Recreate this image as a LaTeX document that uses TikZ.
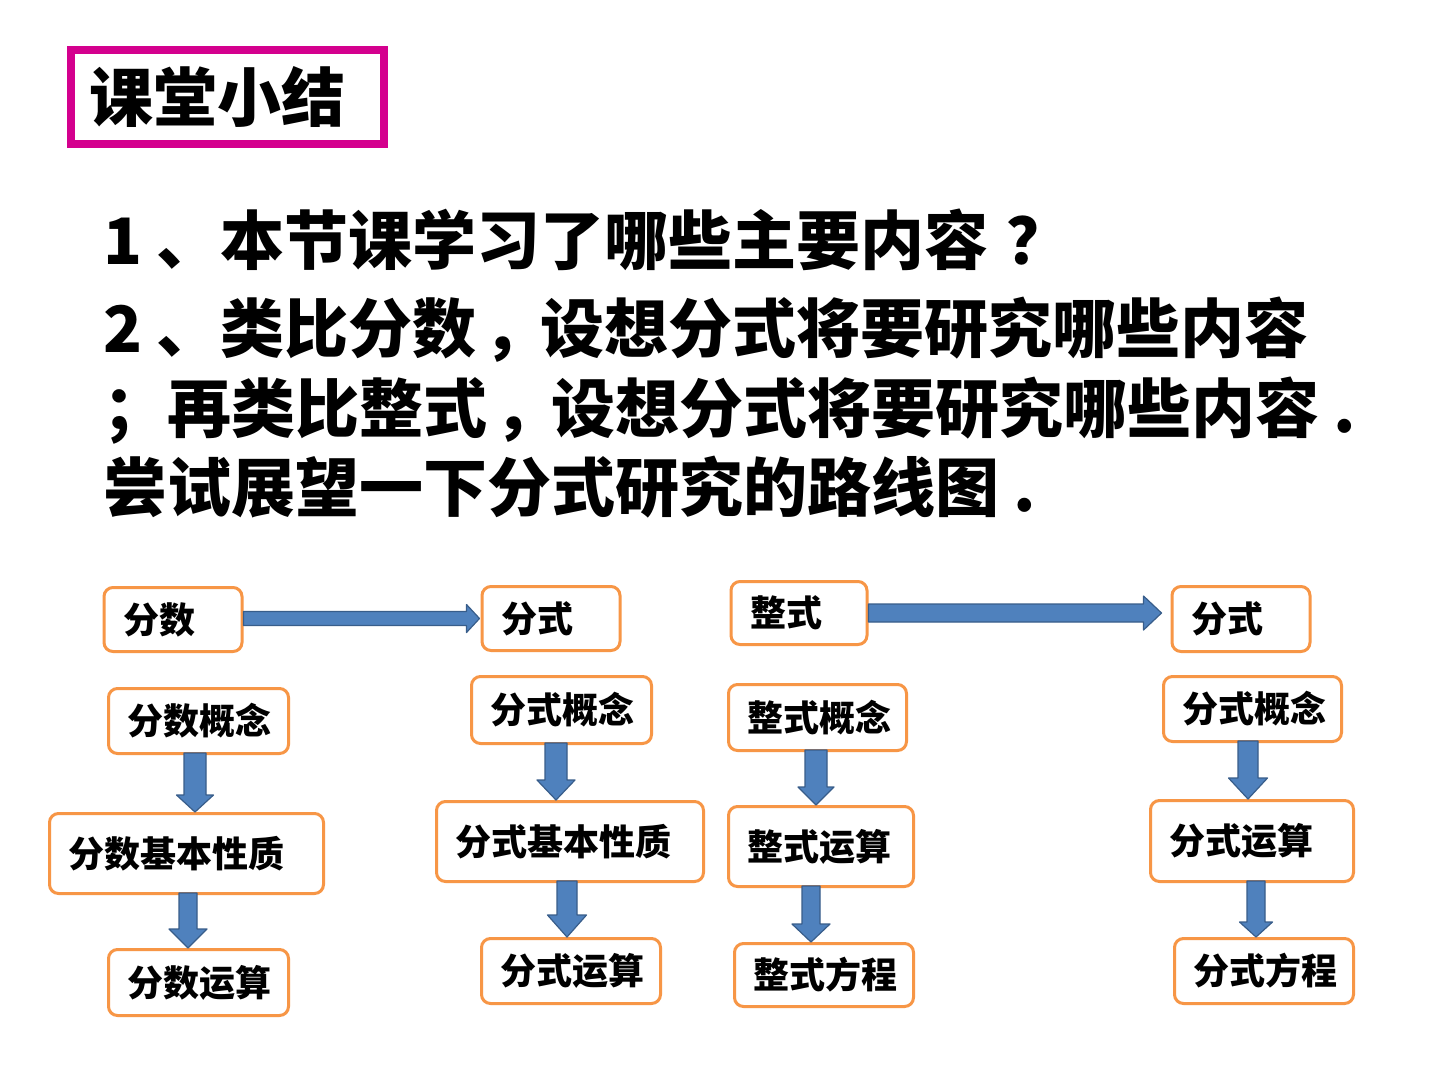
\documentclass[tikz,border=0pt]{standalone}
\usepackage{fontspec}
\setmainfont{Noto Sans CJK SC}
\usetikzlibrary{calc}
\definecolor{boxorange}{RGB}{247,150,70}
\definecolor{arrowblue}{RGB}{79,129,189}
\definecolor{arrowedge}{RGB}{56,93,138}
\definecolor{titlemag}{RGB}{212,0,142}
\tikzset{
  stepbox/.style={draw=boxorange, line width=3pt, rounded corners=9pt, fill=white,
    inner xsep=19pt, inner ysep=0pt, align=left, font=\fontsize{36}{36}\selectfont\bfseries},
  blkarrow/.style={fill=arrowblue, draw=arrowedge, line width=1.2pt, line join=round},
  titlebox/.style={draw=titlemag, line width=8pt, inner xsep=18pt, inner ysep=0pt, align=left,
    font=\fontsize{64}{64}\selectfont\bfseries},
  qline/.style={anchor=base west, inner sep=0pt, font=\fontsize{64}{64}\selectfont\bfseries}
}
% vertical block arrow: from, to, x centre, shaft half width, head half width, head length
\newcommand\blkdown[6]{%
  \filldraw[blkarrow] let \p1=(#1.south), \p2=(#2.north), \p3=(#3,0) in
    (\x3-#4pt,\y1+2pt) -- (\x3+#4pt,\y1+2pt) -- (\x3+#4pt,\y2+#6pt) -- (\x3+#5pt,\y2+#6pt)
    -- (\x3,\y2) -- (\x3-#5pt,\y2+#6pt) -- (\x3-#4pt,\y2+#6pt) -- cycle;}
% horizontal block arrow: from, to, y centre, shaft half, head half, head length, gap
\newcommand\blkright[7]{%
  \filldraw[blkarrow] let \p1=(#1.east), \p2=(#2.west), \p3=(0,#3) in
    (\x1,\y3-#4pt) -- (\x2-#7pt-#6pt,\y3-#4pt) -- (\x2-#7pt-#6pt,\y3-#5pt) -- (\x2-#7pt,\y3)
    -- (\x2-#7pt-#6pt,\y3+#5pt) -- (\x2-#7pt-#6pt,\y3+#4pt) -- (\x1,\y3+#4pt) -- cycle;}
\begin{document}
\begin{tikzpicture}[x=1pt,y=-1pt]
\fill[white] (0,0) rectangle (1440,1080);
\useasboundingbox (0,0) rectangle (1440,1080);

% title
\node[titlebox, text width=277pt, minimum height=94pt] (title) at (227.5,97) {课堂小结};

% questions
\node[qline] (q1) at (103,264) {1 、本节课学习了哪些主要内容\hspace{18pt}？};
\node[qline] (q2) at (103,352) {2 、类比分数\hspace{7pt}，\hspace{-7pt}设想分式将要研究哪些内容};
\node[qline] (q3) at (103,432) {；再类比整式\hspace{7pt}，\hspace{-7pt}设想分式将要研究哪些内容 .};
\node[qline] (q4) at (103,511) {尝试展望一下分式研究的路线图 .};

% top row
\node[stepbox, text width=100pt, minimum height=64pt] (n1) at (173,619.5) {分数};
\node[stepbox, text width=100pt, minimum height=64pt] (n2) at (551,618.5) {分式};
\node[stepbox, text width=98pt, minimum height=63pt] (n3) at (799,613) {整式};
\node[stepbox, text width=100pt, minimum height=65pt] (n4) at (1241,619) {分式};

% column 1
\node[stepbox, text width=142pt, minimum height=65pt] (a1) at (198.5,721) {分数概念};
\node[stepbox, text width=236pt, minimum height=80pt] (a2) at (186.5,853.5) {分数基本性质};
\node[stepbox, text width=142pt, minimum height=66pt] (a3) at (198.5,982.5) {分数运算};

% column 2
\node[stepbox, text width=142pt, minimum height=67pt] (b1) at (561.5,710) {分式概念};
\node[stepbox, text width=229pt, minimum height=80pt] (b2) at (570,841.5) {分式基本性质};
\node[stepbox, text width=141pt, minimum height=65pt] (b3) at (571,971) {分式运算};

% column 3
\node[stepbox, text width=140pt, minimum height=66pt] (c1) at (817.5,717.5) {整式概念};
\node[stepbox, text width=147pt, minimum height=80pt] (c2) at (821,846.5) {整式运算};
\node[stepbox, text width=141pt, minimum height=63pt] (c3) at (824,975) {整式方程};

% column 4
\node[stepbox, text width=140pt, minimum height=65pt] (d1) at (1252.5,709) {分式概念};
\node[stepbox, text width=165pt, minimum height=81pt] (d2) at (1252,841) {分式运算};
\node[stepbox, text width=141pt, minimum height=65pt] (d3) at (1264,971) {分式方程};

% horizontal arrows
\blkright{n1}{n2}{618.5}{7}{14}{13}{1}
\blkright{n3}{n4}{613}{9}{17}{18}{9}

% vertical arrows
\blkdown{a1}{a2}{195}{11}{18.5}{17}
\blkdown{a2}{a3}{188}{9}{19}{19}
\blkdown{b1}{b2}{556}{11}{19}{20}
\blkdown{b2}{b3}{567}{10}{19.5}{22}
\blkdown{c1}{c2}{816}{11}{18}{18}
\blkdown{c2}{c3}{811}{9}{19}{18}
\blkdown{d1}{d2}{1248}{10}{19.5}{21}
\blkdown{d2}{d3}{1256}{9}{16.5}{15}
\end{tikzpicture}
\end{document}
